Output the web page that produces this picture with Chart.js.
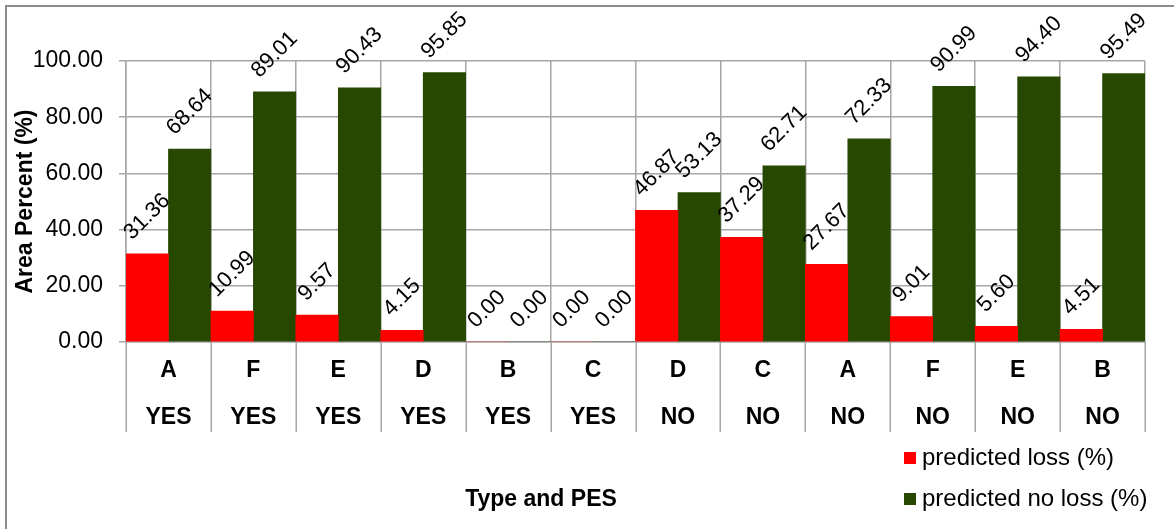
<!DOCTYPE html>
<html>
<head>
<meta charset="utf-8">
<script src="https://cdn.jsdelivr.net/npm/chart.js@4.4.1/dist/chart.umd.min.js"></script>
<style>
  html, body { margin: 0; padding: 0; background: #ffffff; }
  #wrap { width: 1174px; height: 529px; position: relative; }
</style>
</head>
<body>
<div id="wrap"><canvas id="c" width="1174" height="529"></canvas></div>
<script>
// ---- data ----
const types = ['A', 'F', 'E', 'D', 'B', 'C', 'D', 'C', 'A', 'F', 'E', 'B'];
const pes = ['YES', 'YES', 'YES', 'YES', 'YES', 'YES', 'NO', 'NO', 'NO', 'NO', 'NO', 'NO'];
const predictedLoss = [31.36, 10.99, 9.57, 4.15, 0.00, 0.00, 46.87, 37.29, 27.67, 9.01, 5.60, 4.51];
const predictedNoLoss = [68.64, 89.01, 90.43, 95.85, 0.00, 0.00, 53.13, 62.71, 72.33, 90.99, 94.40, 95.49];
const seriesNames = ['predicted loss (%)', 'predicted no loss (%)'];
const yTickStep = 20;
const yMin = 0, yMax = 100;
const yTitle = 'Area Percent (%)';
const xTitle = 'Type and PES';

const FONT = '"Liberation Sans", Arial, sans-serif';
const RED = '#ff0000';
const GREEN = '#264800';
const GRID = '#a6a6a6';

const labels = types.map((t, i) => [t, pes[i]]);

const deco = {
  id: 'deco',
  beforeDraw(chart) {
    const ctx = chart.ctx;
    ctx.save();
    ctx.strokeStyle = '#8c8c8c';
    ctx.lineWidth = 2;
    ctx.beginPath();
    ctx.moveTo(6, 529);
    ctx.lineTo(6, 6);
    ctx.lineTo(1174, 6);
    ctx.stroke();
    ctx.restore();
  },
  afterDatasetsDraw(chart) {
    const ctx = chart.ctx;
    ctx.save();
    ctx.font = '22px ' + FONT;
    ctx.fillStyle = '#000';
    ctx.textAlign = 'center';
    ctx.textBaseline = 'middle';
    const H = 16;
    chart.data.datasets.forEach((ds, di) => {
      const meta = chart.getDatasetMeta(di);
      meta.data.forEach((bar, i) => {
        const txt = Number(ds.data[i]).toFixed(2);
        const L = ctx.measureText(txt).width;
        const d = 12 + (L + H) / (2 * Math.SQRT2);
        ctx.save();
        ctx.translate(bar.x, bar.y - d);
        ctx.rotate(-Math.PI / 4);
        ctx.fillText(txt, 0, 0);
        ctx.restore();
      });
    });
    ctx.restore();
  },
  afterDraw(chart) {
    const ctx = chart.ctx;
    const xs = chart.scales.x;
    const n = chart.data.labels.length;
    const w = (xs.right - xs.left) / n;
    ctx.save();
    // table lines under category axis
    ctx.strokeStyle = GRID;
    ctx.lineWidth = 1.5;
    ctx.beginPath();
    for (let i = 0; i <= n; i++) {
      const x = Math.round(xs.left + i * w) + 0.25;
      ctx.moveTo(x, xs.top);
      ctx.lineTo(x, xs.top + 90);
    }
    ctx.stroke();
    // x axis title
    ctx.fillStyle = '#000';
    ctx.font = 'bold 23px ' + FONT;
    ctx.textAlign = 'center';
    ctx.textBaseline = 'middle';
    ctx.fillText(xTitle, 541, 500);
    // legend
    ctx.font = '24px ' + FONT;
    ctx.textAlign = 'left';
    const rows = [458, 499];
    chart.data.datasets.forEach((ds, di) => {
      const y = rows[di];
      ctx.fillStyle = ds.backgroundColor;
      ctx.fillRect(904, y - 6, 12, 12);
      ctx.fillStyle = '#000';
      ctx.fillText(ds.label, 922, y);
    });
    ctx.restore();
  }
};

new Chart(document.getElementById('c'), {
  type: 'bar',
  data: {
    labels: labels,
    datasets: [
      { label: seriesNames[0], data: predictedLoss, backgroundColor: RED, borderWidth: 0,
        barPercentage: 1, categoryPercentage: 1 },
      { label: seriesNames[1], data: predictedNoLoss, backgroundColor: GREEN, borderWidth: 0,
        barPercentage: 1, categoryPercentage: 1 }
    ]
  },
  options: {
    responsive: false,
    animation: false,
    devicePixelRatio: 1,
    layout: { padding: { left: 6, top: 61, right: 29, bottom: 87 } },
    plugins: {
      legend: { display: false },
      tooltip: { enabled: false }
    },
    scales: {
      x: {
        offset: true,
        grid: { display: true, offset: true, color: GRID, lineWidth: 1.5, drawTicks: false },
        border: { display: true, color: GRID, width: 1.5 },
        ticks: {
          color: '#000',
          padding: 5,
          maxRotation: 0,
          autoSkip: false,
          font: { family: FONT, size: 23, weight: 'bold', lineHeight: 47 / 23 }
        },
        afterFit(s) { s.height = 100; }
      },
      y: {
        min: yMin,
        max: yMax,
        grid: { color: GRID, lineWidth: 1.5, drawTicks: true, tickLength: 7 },
        border: { display: true, color: GRID, width: 1.5 },
        ticks: {
          stepSize: yTickStep,
          color: '#000',
          padding: 16,
          font: { family: FONT, size: 23 },
          callback: (v) => Number(v).toFixed(2)
        },
        title: {
          display: true,
          text: yTitle,
          color: '#000',
          font: { family: FONT, size: 23, weight: 'bold' },
          padding: { top: 6, bottom: 0 }
        },
        afterFit(s) { s.width = 120; }
      }
    }
  },
  plugins: [deco]
});
</script>
</body>
</html>
